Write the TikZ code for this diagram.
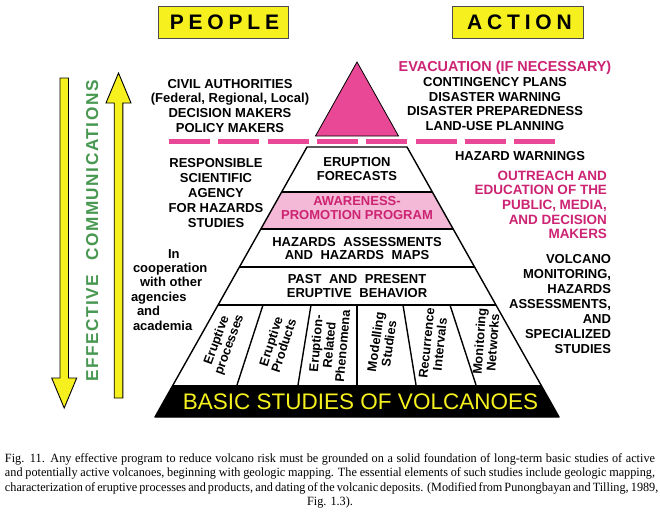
\documentclass[tikz,border=0pt]{standalone}
\usepackage{fontspec}
\setmainfont{Liberation Sans}
\newfontfamily\capfont[FakeStretch=0.97]{Liberation Serif}
\newfontfamily\boxfont[LetterSpace=23]{Liberation Sans}
\newfontfamily\effont[LetterSpace=9]{Liberation Sans}
\definecolor{yel}{RGB}{245,240,30}
\definecolor{tripink}{RGB}{232,72,150}
\definecolor{pinktext}{RGB}{205,35,115}
\definecolor{bandpink}{RGB}{243,185,214}
\definecolor{effgreen}{RGB}{72,152,82}
\newcommand{\stk}[2]{\begin{tabular}[t]{@{}#1@{}}#2\end{tabular}}
\newcommand{\ws}{\hspace{4pt} }
\begin{document}
\begin{tikzpicture}[x=1pt,y=-1pt,
  every node/.style={inner sep=0pt, outer sep=0pt},
  lbl/.style={font=\fontsize{13}{14.7}\selectfont\bfseries, anchor=base},
  lblsm/.style={font=\fontsize{12.8}{13.4}\selectfont\bfseries, anchor=center},
  edge/.style={line width=1.4pt, line join=round},
  headbox/.style={draw=black!70, fill=yel, line width=0.6pt},
  capt/.style={anchor=base west, font=\fontsize{12.6}{14}\capfont},
  yarrow/.style={draw=black, fill=yel, line width=0.9pt, line join=miter}]
\useasboundingbox (0,0) rectangle (660,511);
\fill[white] (0,0) rectangle (660,511);

% header boxes
\draw[headbox] (158,6) rectangle (288,38);
\draw[headbox] (452,6) rectangle (583,38);
\node[anchor=base, font=\fontsize{21}{24}\selectfont\bfseries] (people) at (224.5,30) {\boxfont PEOPLE};
\node[anchor=base, font=\fontsize{21}{24}\selectfont\bfseries] (action) at (519.5,30) {\boxfont ACTION};

% arrows
\draw[yarrow] (114.2,398) -- (114.2,103) -- (106,103) -- (118.5,73) -- (131,103) -- (122.8,103) -- (122.8,398) -- cycle;
\draw[yarrow] (60,78) -- (68.5,78) -- (68.5,378) -- (76.7,378) -- (64.2,408) -- (51.7,378) -- (60,378) -- cycle;
\node[anchor=base, rotate=90, text=effgreen, font=\fontsize{17.2}{20}\selectfont\bfseries] (effcom) at (98,231) {\effont EFFECTIVE\hspace{14pt}COMMUNICATIONS};

% pink triangle and dashes
\draw[fill=tripink, line width=0.8pt, line join=miter] (357,62) -- (398.5,136) -- (315.5,136) -- cycle;
\draw[tripink, line width=5pt, dash pattern=on 41pt off 8.3pt] (169,141) -- (555,141);

% pyramid
\fill[bandpink] (281.7,192) -- (432.3,192) -- (453.2,229) -- (260.8,229) -- cycle;
\fill[black] (173,385) -- (541,385) -- (559,417) -- (155,417) -- cycle;
\draw[edge] (155,417) -- (307,147) -- (407,147) -- (559,417) -- cycle;
\draw[edge] (281.7,192) -- (432.3,192);
\draw[edge] (260.8,229) -- (453.2,229);
\draw[edge] (239.4,267) -- (474.6,267);
\draw[edge] (218.1,305) -- (495.9,305);
\draw[edge] (263,305) -- (237,385);
\draw[edge] (311,305) -- (298,385);
\draw[edge] (357,305) -- (357,385);
\draw[edge] (403,305) -- (416,385);
\draw[edge] (450,305) -- (476,385);

% pyramid labels
\node[lbl, font=\fontsize{13}{13.7}\selectfont\bfseries] (forecast) at (357,166.5) {\stk{c}{ERUPTION\\FORECASTS}};
\node[lbl, text=pinktext, font=\fontsize{13}{14.7}\selectfont\bfseries] (aware) at (357,205) {\stk{c}{AWARENESS-\\PROMOTION PROGRAM}};
\node[lbl, font=\fontsize{13}{13.7}\selectfont\bfseries] (hazmap) at (357,246) {\stk{c}{HAZARDS\ws ASSESSMENTS\\AND\ws HAZARDS\ws MAPS}};
\node[lbl, font=\fontsize{13}{13.7}\selectfont\bfseries] (past) at (357,283.5) {\stk{c}{PAST\ws AND\ws PRESENT\\ERUPTIVE\ws BEHAVIOR}};
\node[lbl, text=yel, font=\fontsize{22.5}{24}\selectfont] (basic) at (360.5,409) {BASIC STUDIES OF VOLCANOES};

\node[lblsm, rotate=70] (s1) at (224,343) {\stk{c}{Eruptive\\processes}};
\node[lblsm, rotate=72] (s2) at (279,344) {\stk{c}{Eruptive\\Products}};
\node[lblsm, rotate=85] (s3) at (331,345) {\stk{c}{Eruption-\\Related\\Phenomena}};
\node[lblsm, rotate=82] (s4) at (384,343) {\stk{c}{Modelling\\Studies}};
\node[lblsm, rotate=84] (s5) at (435,344) {\stk{c}{Recurrence\\Intervals}};
\node[lblsm, rotate=86] (s6) at (488,342) {\stk{c}{Monitoring\\Networks}};

% left texts
\node[lbl] (civil) at (230,88) {\stk{c}{CIVIL AUTHORITIES\\(Federal, Regional, Local)\\DECISION MAKERS\\POLICY MAKERS}};
\node[lbl, font=\fontsize{13}{15}\selectfont\bfseries] (resp) at (216,167) {\stk{c}{RESPONSIBLE\\SCIENTIFIC\\AGENCY\\FOR HAZARDS\\STUDIES}};
\node[lbl, anchor=base west, font=\fontsize{13}{14.4}\selectfont\bfseries] (coop) at (131,258) {\stk{l}{\hspace*{37pt}In\\\hspace*{2pt}cooperation\\\hspace*{9pt}with other\\agencies\\\hspace*{6pt}and\\\hspace*{2pt}academia}};

% right texts
\node[lbl, text=pinktext, font=\fontsize{14.4}{16}\selectfont\bfseries] (evac) at (505,71) {EVACUATION (IF NECESSARY)};
\node[lbl] (conting) at (495,86.5) {\stk{c}{CONTINGENCY PLANS\\DISASTER WARNING\\DISASTER PREPAREDNESS\\LAND-USE PLANNING}};
\node[lbl, anchor=base west] (hazwarn) at (455,160) {HAZARD WARNINGS};
\node[lbl, anchor=base east, text=pinktext, font=\fontsize{13.5}{14.7}\selectfont\bfseries] (outreach) at (607,180) {\stk{r}{OUTREACH AND\\EDUCATION OF THE\\PUBLIC, MEDIA,\\AND DECISION\\MAKERS}};
\node[lbl, anchor=base east, font=\fontsize{13}{15}\selectfont\bfseries] (volcmon) at (611,263) {\stk{r}{VOLCANO\\MONITORING,\\HAZARDS\\ASSESSMENTS,\\AND\\SPECIALIZED\\STUDIES}};

% caption
\node[capt] (cap1) at (5,462) {\makebox[650pt][s]{Fig. 11. Any effective program to reduce volcano risk must be grounded on a solid foundation of long-term basic studies of active}};
\node[capt] (cap2) at (5,476.5) {\makebox[650pt][s]{and potentially active volcanoes, beginning with geologic mapping. The essential elements of such studies include geologic mapping,}};
\node[capt] (cap3) at (5,491) {\makebox[650pt][s]{characterization of eruptive processes and products, and dating of the volcanic deposits. (Modified from Punongbayan and Tilling, 1989,}};
\node[capt, anchor=base] (cap4) at (330,505) {Fig. 1.3).};
\end{tikzpicture}
\end{document}
